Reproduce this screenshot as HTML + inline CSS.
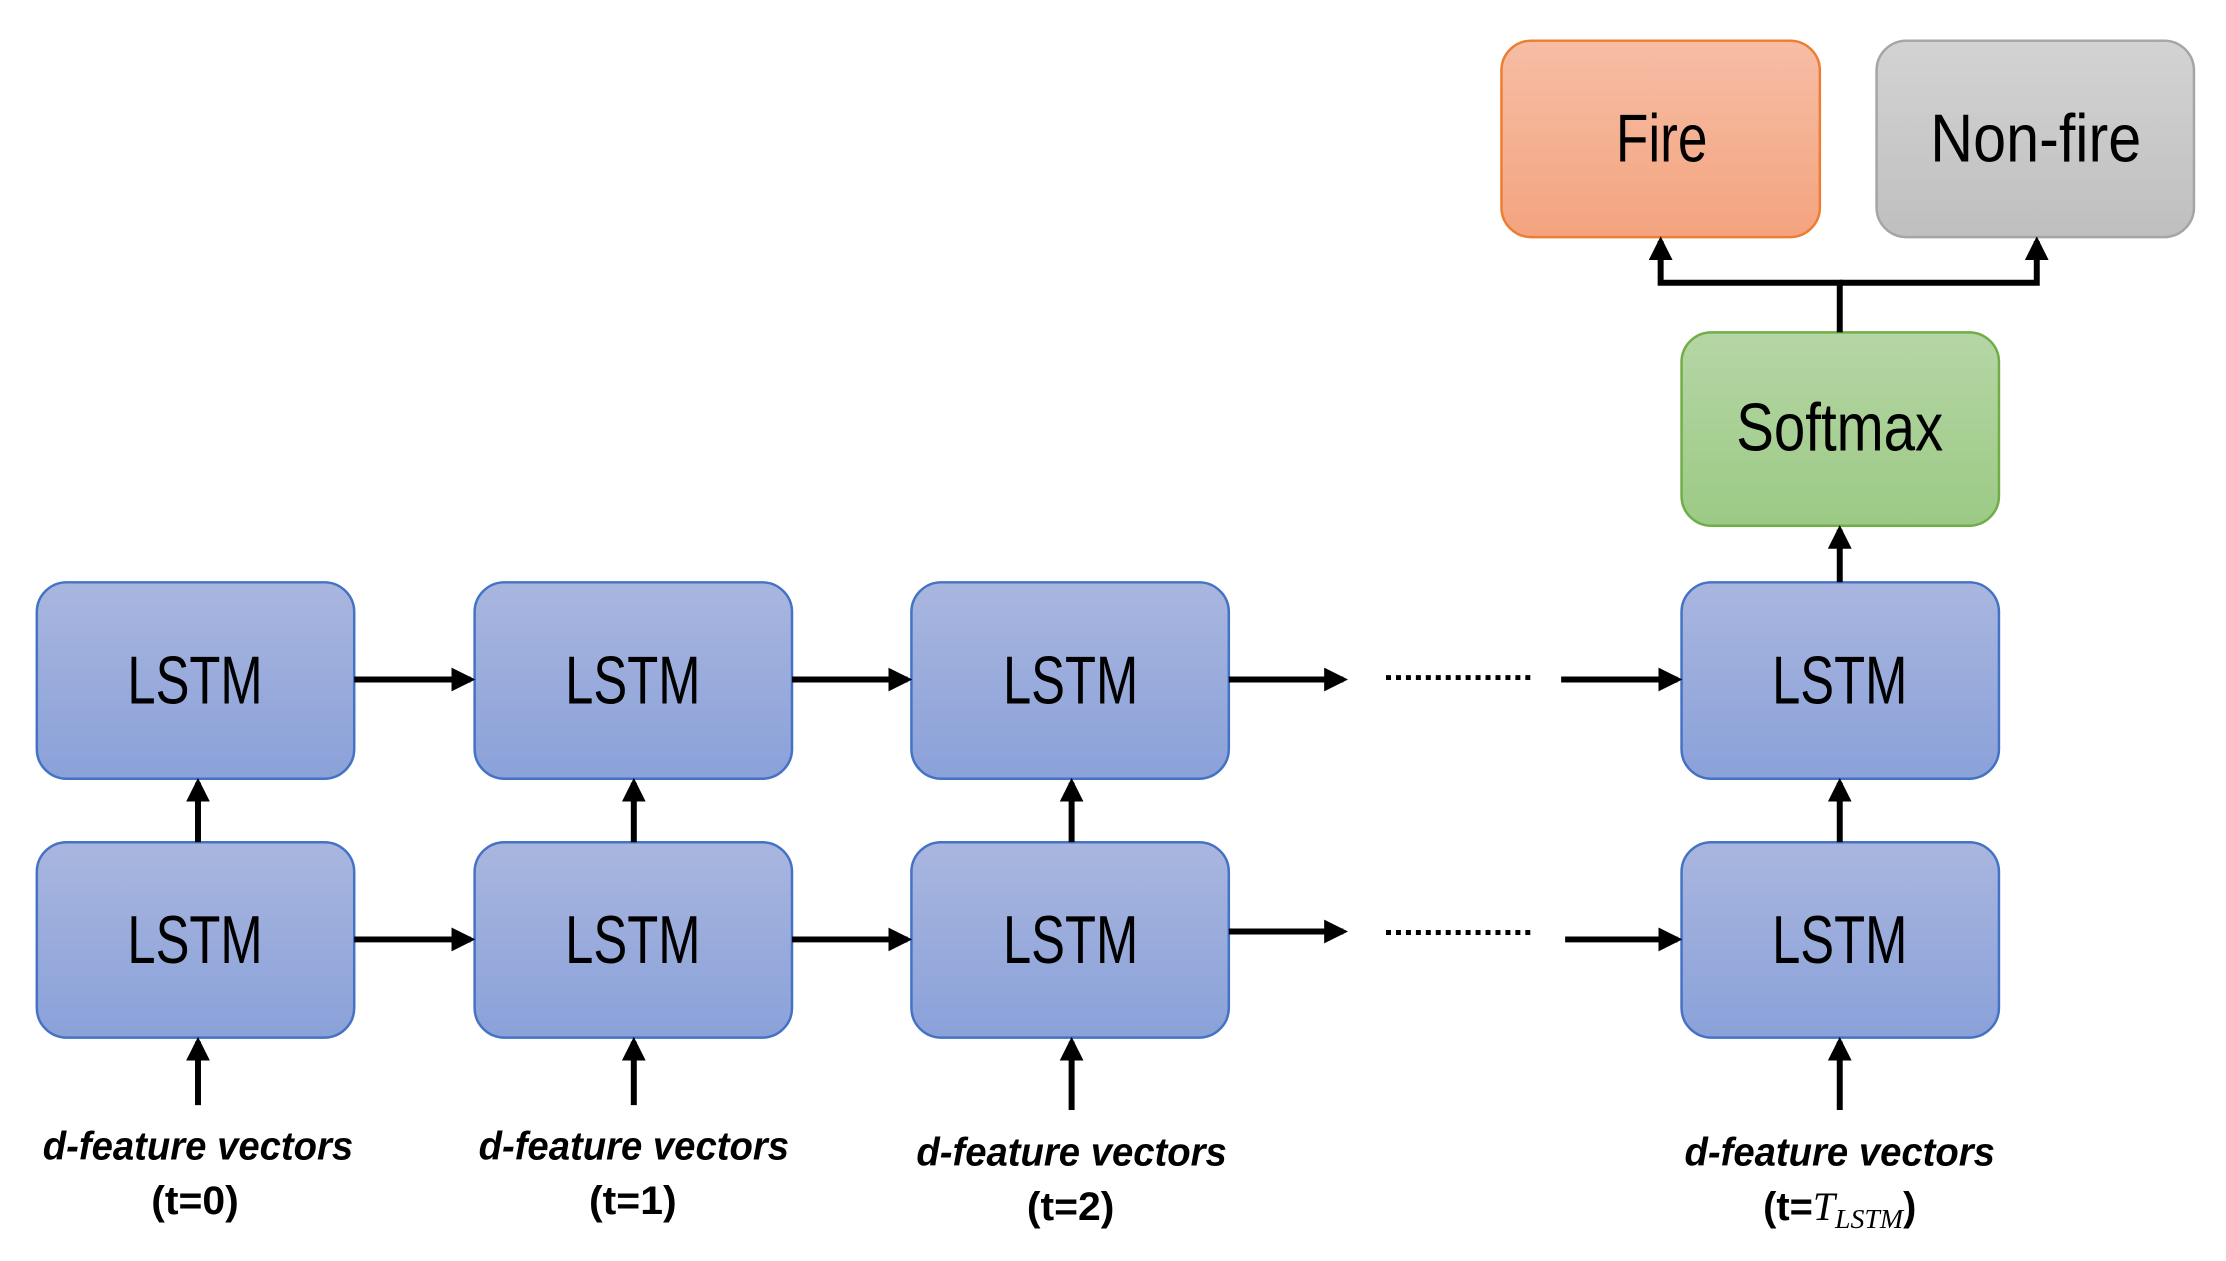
<!DOCTYPE html>
<html><head><meta charset="utf-8"><style>html,body{margin:0;padding:0;background:#fff}svg{display:block}</style></head>
<body>
<svg width="2226" height="1261" viewBox="0 0 2226 1261" xmlns="http://www.w3.org/2000/svg">
<defs>
<linearGradient id="gb" x1="0" y1="0" x2="0" y2="1"><stop offset="0" stop-color="#a9b6df"/><stop offset="1" stop-color="#8aa1d9"/></linearGradient>
<linearGradient id="go" x1="0" y1="0" x2="0" y2="1"><stop offset="0" stop-color="#f6bda5"/><stop offset="1" stop-color="#f4a47f"/></linearGradient>
<linearGradient id="gg" x1="0" y1="0" x2="0" y2="1"><stop offset="0" stop-color="#d3d3d3"/><stop offset="1" stop-color="#bfbfbf"/></linearGradient>
<linearGradient id="gn" x1="0" y1="0" x2="0" y2="1"><stop offset="0" stop-color="#b5d6a5"/><stop offset="1" stop-color="#9cca85"/></linearGradient>
<marker id="ah" markerWidth="4" markerHeight="4" refX="3.2" refY="2" orient="auto" markerUnits="strokeWidth"><path d="M0,0 L4,2 L0,4 z" fill="#000"/></marker>
</defs>
<g font-family="Liberation Sans, sans-serif" fill="#000" transform="translate(-1,1) scale(0.995,0.992)">
<g stroke="#4472c4" stroke-width="2.5" fill="url(#gb)">
<rect x="38" y="586" width="319" height="198" rx="30"/>
<rect x="478" y="586" width="319" height="198" rx="30"/>
<rect x="917" y="586" width="319" height="198" rx="30"/>
<rect x="1691" y="586" width="319" height="198" rx="30"/>
<rect x="38" y="848" width="319" height="197" rx="30"/>
<rect x="478" y="848" width="319" height="197" rx="30"/>
<rect x="917" y="848" width="319" height="197" rx="30"/>
<rect x="1691" y="848" width="319" height="197" rx="30"/>
</g>
<rect x="1691" y="334" width="319" height="195" rx="30" fill="url(#gn)" stroke="#70ad47" stroke-width="2.5"/>
<rect x="1510" y="40" width="320" height="198" rx="30" fill="url(#go)" stroke="#ed7d31" stroke-width="2.5"/>
<rect x="1887" y="40" width="319" height="198" rx="30" fill="url(#gg)" stroke="#a5a5a5" stroke-width="2.5"/>
<g font-size="68" text-anchor="middle">
<text x="197" y="708" textLength="136" lengthAdjust="spacingAndGlyphs">LSTM</text>
<text x="637" y="708" textLength="136" lengthAdjust="spacingAndGlyphs">LSTM</text>
<text x="1077" y="708" textLength="136" lengthAdjust="spacingAndGlyphs">LSTM</text>
<text x="1850" y="708" textLength="136" lengthAdjust="spacingAndGlyphs">LSTM</text>
<text x="197" y="970" textLength="136" lengthAdjust="spacingAndGlyphs">LSTM</text>
<text x="637" y="970" textLength="136" lengthAdjust="spacingAndGlyphs">LSTM</text>
<text x="1077" y="970" textLength="136" lengthAdjust="spacingAndGlyphs">LSTM</text>
<text x="1850" y="970" textLength="136" lengthAdjust="spacingAndGlyphs">LSTM</text>
<text x="1850" y="453" textLength="208" lengthAdjust="spacingAndGlyphs">Softmax</text>
<text x="1671" y="162" textLength="92" lengthAdjust="spacingAndGlyphs">Fire</text>
<text x="2047" y="162" textLength="212" lengthAdjust="spacingAndGlyphs">Non-fire</text>
</g>
<g stroke="#000" stroke-width="6" fill="none" marker-end="url(#ah)">
<line x1="357" y1="684" x2="474" y2="684"/>
<line x1="797" y1="684" x2="913" y2="684"/>
<line x1="1236" y1="684" x2="1351" y2="684"/>
<line x1="1570" y1="684" x2="1687" y2="684"/>
<line x1="357" y1="946" x2="474" y2="946"/>
<line x1="797" y1="946" x2="913" y2="946"/>
<line x1="1236" y1="938" x2="1351" y2="938"/>
<line x1="1574" y1="946" x2="1687" y2="946"/>
<line x1="200" y1="848" x2="200" y2="788"/>
<line x1="638" y1="848" x2="638" y2="788"/>
<line x1="1078" y1="848" x2="1078" y2="788"/>
<line x1="1850" y1="848" x2="1850" y2="788"/>
<line x1="200" y1="1113" x2="200" y2="1049"/>
<line x1="638" y1="1113" x2="638" y2="1049"/>
<line x1="1078" y1="1118" x2="1078" y2="1049"/>
<line x1="1850" y1="1118" x2="1850" y2="1049"/>
<line x1="1850" y1="586" x2="1850" y2="533"/>
<polyline points="1850,334 1850,284 1670,284 1670,242"/>
<polyline points="1850,284 2048,284 2048,242"/>
</g>
<g stroke="#000" stroke-width="5" stroke-dasharray="5,5">
<line x1="1394" y1="682" x2="1541" y2="682"/>
<line x1="1394" y1="939" x2="1541" y2="939"/>
</g>
<g font-size="40" font-weight="bold" text-anchor="middle">
<text x="200" y="1168" font-style="italic" textLength="312" lengthAdjust="spacingAndGlyphs">d-feature vectors</text>
<text x="638" y="1168" font-style="italic" textLength="312" lengthAdjust="spacingAndGlyphs">d-feature vectors</text>
<text x="1078" y="1174" font-style="italic" textLength="312" lengthAdjust="spacingAndGlyphs">d-feature vectors</text>
<text x="1850" y="1174" font-style="italic" textLength="312" lengthAdjust="spacingAndGlyphs">d-feature vectors</text>
<text x="197" y="1223" textLength="88" lengthAdjust="spacingAndGlyphs">(t=0)</text>
<text x="637" y="1223" textLength="88" lengthAdjust="spacingAndGlyphs">(t=1)</text>
<text x="1077" y="1229" textLength="88" lengthAdjust="spacingAndGlyphs">(t=2)</text>
<text x="1850" y="1229" text-anchor="middle">(t=<tspan font-family="Liberation Serif, serif" font-style="italic" font-weight="normal">T</tspan><tspan font-family="Liberation Serif, serif" font-style="italic" font-weight="normal" font-size="28" dy="8">LSTM</tspan><tspan dy="-8">)</tspan></text>
</g>
</g>
</svg>
</body></html>
